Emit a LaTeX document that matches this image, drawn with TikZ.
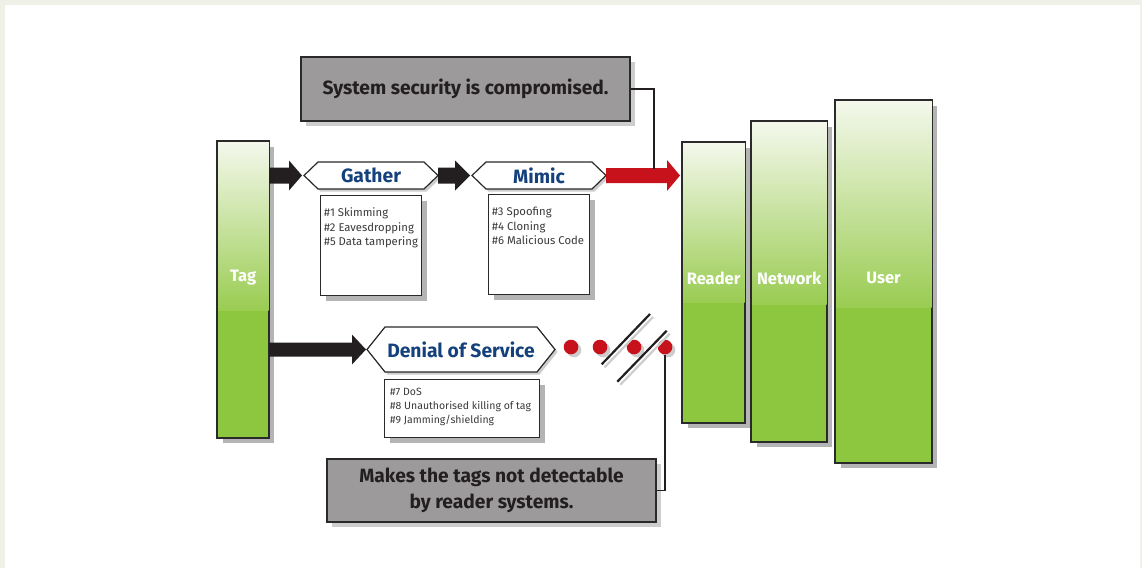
\documentclass[tikz,border=0pt]{standalone}
\usepackage{fontspec}
\setmainfont{Fira Sans}
\usetikzlibrary{calc,shadows}
\definecolor{bgc}{HTML}{EFF1E8}
\definecolor{grn}{HTML}{8DC63F}
\definecolor{gtop}{HTML}{F4F8EC}
\definecolor{gmid}{HTML}{9ACC52}
\definecolor{bordc}{HTML}{2A2A2A}
\definecolor{shadc}{HTML}{B4B4B4}
\definecolor{lshad}{HTML}{CDCDCD}
\definecolor{callc}{HTML}{9C9A9A}
\definecolor{navy}{HTML}{14407C}
\definecolor{redc}{HTML}{C8121B}
\definecolor{blk}{HTML}{231F20}
\definecolor{listc}{HTML}{3A3A3A}
\tikzset{
  barbox/.style={draw=bordc, line width=1.2pt, fill=grn, inner sep=0pt, anchor=north west,
    drop shadow={shadow xshift=5pt, shadow yshift=-5pt, fill=shadc, opacity=1}},
  barlabel/.style={text=white, font=\bfseries\fontsize{16.5}{18}\selectfont, inner sep=0pt},
  listbox/.style={draw=bordc, line width=1.2pt, fill=white, inner sep=0pt, anchor=north west,
    drop shadow={shadow xshift=5pt, shadow yshift=-5pt, fill=shadc, opacity=1}},
  listtext/.style={text=listc, font=\fontsize{11.3}{14.5}\selectfont, align=left, anchor=north west, inner sep=0pt},
  smalllist/.style={listtext, font=\fontsize{10.5}{14}\selectfont},
  hextext/.style={text=navy, font=\bfseries\fontsize{19.3}{22}\selectfont, inner sep=0pt},
  hexline/.style={draw=bordc, line width=1.2pt, fill=white},
  callout/.style={draw=bordc, line width=1.2pt, fill=callc, text=blk, align=center,
    font=\bfseries\fontsize{19.2}{26}\selectfont, inner sep=0pt,
    drop shadow={shadow xshift=5pt, shadow yshift=-5pt, fill=lshad, opacity=1}},
  conn/.style={draw=blk, line width=1.2pt},
  reddot/.style={circle, fill=redc, minimum size=14.6pt, inner sep=0pt,
    drop shadow={shadow xshift=3pt, shadow yshift=-3pt, fill=lshad, opacity=1}},
  slash/.style={draw=blk, line width=2.2pt},
  slashshadow/.style={draw=lshad, line width=2.2pt},
}
\newcommand\greenbar[6]{%
  \node[barbox, minimum width=#4pt, minimum height=#5pt] (#1) at (#2,#3) {};
  \shade[top color=gtop, bottom color=gmid] ($(#1.north west)+(0.6,0.6)$) rectangle ($(#1.north east)!0.57!(#1.south east)+(-0.6,0)$);
  \draw[bordc, line width=1.2pt] (#1.north west) rectangle (#1.south east);
  \node[barlabel] (#1-lbl) at ($(#1.north)+(0,{278-#3})$) {#6};
}
\newcommand\hexa[7]{% name, x1, x2, y1, y2, depth, text
  \fill[lshad] ({#2+2.5},{(#4+#5)/2+2.5}) -- ({#2+#6+2.5},{#4+2.5}) -- ({#3-#6+2.5},{#4+2.5}) -- ({#3+2.5},{(#4+#5)/2+2.5}) -- ({#3-#6+2.5},{#5+2.5}) -- ({#2+#6+2.5},{#5+2.5}) -- cycle;
  \draw[hexline] (#2,{(#4+#5)/2}) -- ({#2+#6},#4) -- ({#3-#6},#4) -- (#3,{(#4+#5)/2}) -- ({#3-#6},#5) -- ({#2+#6},#5) -- cycle;
  \coordinate (#1-w) at (#2,{(#4+#5)/2});
  \coordinate (#1-e) at (#3,{(#4+#5)/2});
  \node[hextext] (#1) at ({(#2+#3)/2},{(#4+#5)/2}) {#7};
}
% from, to, colour, shaft half, head half, head length
\newcommand\fatarrow[6]{%
  \fill[#3] let \p1=(#1), \p2=(#2) in
    (\x1,\y2+#4pt) -- (\x2-#6pt,\y2+#4pt) -- (\x2-#6pt,\y2+#5pt) -- (\x2,\y2)
    -- (\x2-#6pt,\y2-#5pt) -- (\x2-#6pt,\y2-#4pt) -- (\x1,\y2-#4pt) -- cycle;
}
\begin{document}
\begin{tikzpicture}[x=1pt,y=-1pt]
\fill[bgc] (0,0) rectangle (1142,568);
\fill[white] (5,5) rectangle (1140,568);
\useasboundingbox (0,0) rectangle (1142,568);

% bars
\greenbar{tag}{217}{141}{51}{296}{Tag}
\greenbar{reader}{682}{142}{62}{280}{Reader}
\greenbar{network}{751}{121}{75}{320}{Network}
\greenbar{user}{835}{100}{96}{362}{User}

% hexagons
\hexa{gather}{304}{438}{162}{189}{14}{Gather}
\hexa{mimic}{472}{606}{162}{189}{14}{Mimic}
\hexa{dos}{367}{555}{327}{372}{18}{Denial of Service}

% list boxes
\node[listbox, minimum width=101pt, minimum height=100pt] (gbox) at (320,195) {};
\node[listtext] (gtext) at (324,207.5) {\#1 Skimming\\\#2 Eavesdropping\\\#5 Data tampering};
\node[listbox, minimum width=101pt, minimum height=100pt] (mbox) at (488,194) {};
\node[listtext] (mtext) at (492,207) {\#3 Spoofing\\\#4 Cloning\\\#6 Malicious Code};
\node[listbox, minimum width=155pt, minimum height=58pt] (dbox) at (384,379) {};
\node[smalllist] (dtext) at (390,388) {\#7 DoS\\\#8 Unauthorised killing of tag\\\#9 Jamming/shielding};

% arrows
\fatarrow{tag.east |- gather-w}{$(gather-w)+(-2,0)$}{blk}{8}{15}{13}
\fatarrow{gather-e}{$(mimic-w)+(-2,0)$}{blk}{8}{15}{15}
\fatarrow{mimic-e}{$(reader.west |- mimic-e)+(-2,0)$}{redc}{7.5}{15.5}{13}
\fatarrow{tag.east |- dos-w}{$(dos-w)+(-1,0)$}{blk}{7}{15}{14}

% callouts
\node[callout, minimum width=329pt, minimum height=64pt] (sys) at (465.5,89) {System security is compromised.};
\node[callout, minimum width=329pt, minimum height=63pt] (makes) at (491.5,490.5) {Makes the tags not detectable\\by reader systems.};

% dots and break marks
\node[reddot] (d1) at (571,347) {};
\node[reddot] (d2) at (600,347) {};
\node[reddot] (d3) at (634,347) {};
\node[reddot] (d4) at (665,347) {};
\draw[slashshadow] (604.5,367.3) -- (653,317);
\draw[slash] (601.7,364.3) -- (650,314);
\draw[slashshadow] (620.3,384.7) -- (669.7,333.7);
\draw[slash] (617.3,381.7) -- (666.7,330.7);

% connectors
\coordinate (hit) at (654,169);
\draw[conn] (sys.east) -| (hit);
\draw[conn] (d4.south) |- (makes.east);
\end{tikzpicture}
\end{document}
